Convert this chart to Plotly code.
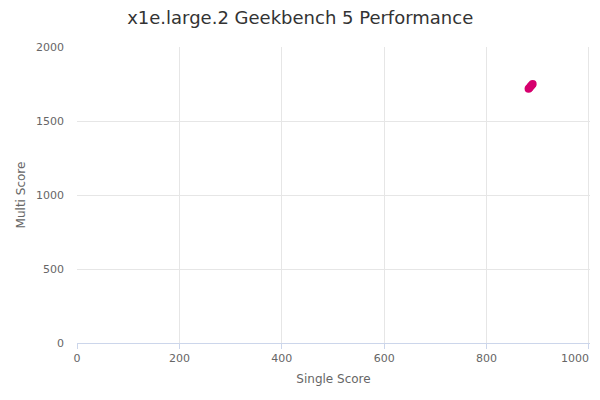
import plotly.graph_objects as go

single_score = [882, 884, 886, 888, 890]
multi_score = [1718, 1725, 1735, 1742, 1750]
x_ticks = [0, 200, 400, 600, 800, 1000]
y_ticks = [0, 500, 1000, 1500, 2000]

fig = go.Figure()
fig.add_trace(go.Scatter(x=single_score, y=multi_score, mode="markers",
                         marker=dict(color="#d6006e", size=8), showlegend=False))

# page body adds an 8px offset, margins compensate for it
fig.update_layout(
    width=600, height=400,
    title=dict(text="x1e.large.2 Geekbench 5 Performance", x=0.487, xanchor="center",
               y=0.975, yanchor="middle", font=dict(size=18, color="#333333")),
    font=dict(family="DejaVu Sans", size=11, color="#666666"),
    paper_bgcolor="white", plot_bgcolor="white",
    margin=dict(l=69, r=18, t=39, b=65, autoexpand=False),
)

# x axis: last label pulled inward via an overlay axis, like the original
fig.update_xaxes(title_text="Single Score", title_font=dict(size=12, color="#666666"),
                 range=[0, 1002], tickvals=x_ticks, ticktext=[str(v) for v in x_ticks[:-1]] + [""],
                 showgrid=True, gridcolor="#e6e6e6", zeroline=False,
                 showline=True, linecolor="#ccd6eb", ticks="outside", ticklen=5,
                 tickcolor="#ccd6eb", title_standoff=10, automargin=False)
fig.update_layout(xaxis2=dict(overlaying="x", matches="x", side="bottom",
                              tickvals=x_ticks[-1:], ticklabelshift=-14,
                              ticklabeloverflow="allow",
                              showgrid=False, zeroline=False, showline=False,
                              ticks="outside", ticklen=5, tickcolor="#ccd6eb",
                              tickfont=dict(size=11, color="#666666"), automargin=False))
fig.add_trace(go.Scatter(x=[], y=[], xaxis="x2", showlegend=False, hoverinfo="skip"))

fig.update_yaxes(title_text="Multi Score", title_font=dict(size=12, color="#666666"),
                 range=[0, 2000], tickvals=y_ticks,
                 showgrid=True, gridcolor="#e6e6e6", zeroline=False,
                 showline=False, ticks="", ticklabelstandoff=12,
                 title_standoff=7, automargin=False)

fig.write_html("out.html")
